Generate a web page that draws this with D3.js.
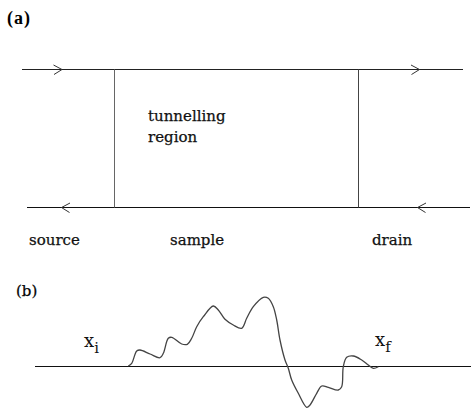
<!DOCTYPE html>
<html><head><meta charset="utf-8">
<script src="https://cdn.jsdelivr.net/npm/d3@7"></script>
<style>html,body{margin:0;padding:0;background:#fff;}svg{display:block;}</style>
</head><body>
<script>
// ---- data ----
const panelLabels = ["(a)", "(b)"];
const regionLabels = ["source", "sample", "drain"];
const regionCaption = ["tunnelling", "region"];
const endpointLabels = [{base: "x", sub: "i"}, {base: "x", sub: "f"}];
// wave: position along the sample and local amplitude
const wavePos = [128.3,131.7,136.7,140,150,160,163.3,168.3,171.7,181.7,187.3,191.7,196.7,203.3,213.3,218.3,225,233.3,241.7,246.7,253.3,263.3,268.3,273.3,276.7,280,285,288.3,291.7,298.3,306.7,310,316.7,321.7,328.3,338.3,341.7,343.3,346.7,353.3,361.7,368.3,373.3,378.3];
const waveAmp = [0,2.7,15,16,12,8.3,12.7,27.7,28.7,22,21.7,27.7,39.3,49.3,60,56,46.7,41,37.7,47.7,59.3,68.7,67.7,59.3,46,26,6,-2.3,-14,-27.3,-41.3,-39,-27.3,-20,-21.3,-24,-20.7,-0.7,8.7,10,6,1,-2.3,-0.7];

// ---- layout ----
const W = 471, H = 409;
const svg = d3.select("body").append("svg").attr("width", W).attr("height", H);
const x = d3.scaleLinear().domain([0, W]).range([0, W]);
const amp = d3.scaleLinear().domain([-41.3, 68.7]).range([407.3, 297.3]);

const topY = 69.5, botY = 207.5, leftV = 114.5, rightV = 358.5;
const serif = "'DejaVu Serif', serif";

// panel labels
svg.append("text").attr("x", 7).attr("y", 24).attr("font-family", "'Liberation Serif', serif").attr("font-weight", "bold")
  .attr("font-size", 18).attr("letter-spacing", 1).text(panelLabels[0]);
svg.append("text").attr("x", 16).attr("y", 296).attr("font-family", serif)
  .attr("font-size", 15).attr("stroke", "#111").attr("stroke-width", 0.25).text(panelLabels[1]);

// leads
const g = svg.append("g").attr("fill", "none").attr("stroke-width", 1);
g.append("line").attr("x1", x(22)).attr("x2", x(463)).attr("y1", topY).attr("y2", topY).attr("stroke", "#222");
g.append("line").attr("x1", x(27)).attr("x2", x(470)).attr("y1", botY).attr("y2", botY).attr("stroke", "#111");
g.append("line").attr("x1", leftV).attr("x2", leftV).attr("y1", topY).attr("y2", botY).attr("stroke", "#666");
g.append("line").attr("x1", rightV).attr("x2", rightV).attr("y1", topY).attr("y2", botY).attr("stroke", "#444");

// arrows (chevrons)
function chevron(tipX, y, dir) {
  const p = d3.path();
  p.moveTo(tipX - dir * 8.5, y - 4.5);
  p.lineTo(tipX, y);
  p.lineTo(tipX - dir * 8, y + 5);
  g.append("path").attr("d", p.toString()).attr("stroke", "#333").attr("stroke-width", 1);
}
chevron(x(62), topY, 1);
chevron(x(419.5), topY, 1);
chevron(x(61.5), botY, -1);
chevron(x(417.5), botY, -1);

// texts
const lab = svg.append("g").attr("font-family", serif).attr("font-size", 15).attr("fill", "#111")
  .attr("stroke", "#111").attr("stroke-width", 0.25);
lab.append("text").attr("x", 29).attr("y", 245).text(regionLabels[0]);
lab.append("text").attr("x", 170).attr("y", 245).text(regionLabels[1]);
lab.append("text").attr("x", 372).attr("y", 245).text(regionLabels[2]);
lab.append("text").attr("x", 148).attr("y", 121).text(regionCaption[0]);
lab.append("text").attr("x", 148).attr("y", 142).text(regionCaption[1]);

// panel (b) baseline
svg.append("line").attr("x1", x(35)).attr("x2", x(471)).attr("y1", amp(0)+0.5).attr("y2", amp(0)+0.5)
  .attr("stroke", "#111").attr("stroke-width", 1);

// wave
const line = d3.line().x(d => x(d[0])).y(d => amp(d[1])).curve(d3.curveCatmullRom.alpha(0.5));
svg.append("path").datum(wavePos.map((p, i) => [p, waveAmp[i]]))
  .attr("d", line).attr("fill", "none").attr("stroke", "#444").attr("stroke-width", 1.3);

// endpoint labels
const ep = svg.append("g").attr("font-family", serif).attr("fill", "#111");
[[84, 347], [375, 346]].forEach((pos, i) => {
  const t = ep.append("text").attr("x", pos[0]).attr("y", pos[1]).attr("font-size", 18);
  t.append("tspan").text(endpointLabels[i].base);
  t.append("tspan").attr("dy", 6).attr("font-size", 15).text(endpointLabels[i].sub);
});
</script>
</body></html>
